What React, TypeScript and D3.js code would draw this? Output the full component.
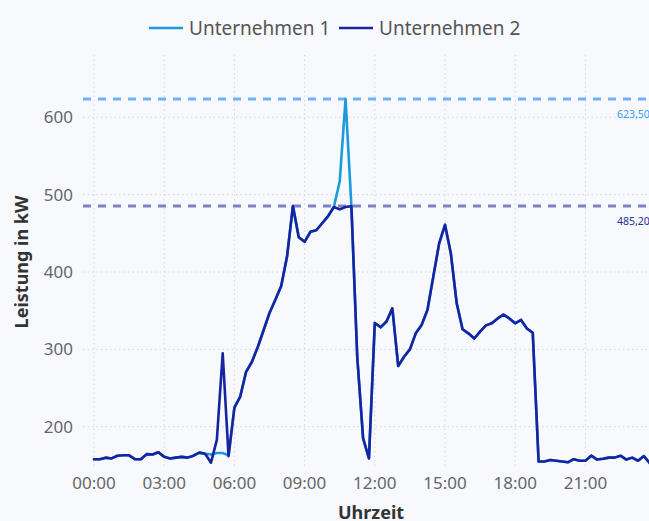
import React from "react";
import * as d3 from "d3";

const seriesNames = ["Unternehmen 1", "Unternehmen 2"];
const xTickLabels = ["00:00", "03:00", "06:00", "09:00", "12:00", "15:00", "18:00", "21:00"];
const xTickHours = [0, 3, 6, 9, 12, 15, 18, 21];
const yTicks = [200, 300, 400, 500, 600];
const stepHours = 0.25;

const unternehmen2 = [
  158, 158, 160, 159, 162.5, 163, 163, 158, 158, 164.5, 164, 167, 161, 159, 160, 161, 160, 162.5, 166.5, 165,
  153.5, 183, 295, 162, 224.6, 239, 271, 284, 303, 325, 347, 364, 382, 420, 485.2, 445, 439, 452, 454, 463,
  472, 484, 481, 484, 485.2, 290, 185, 159, 334, 328.5, 336, 353, 278.5, 290.5, 300, 320.7, 331.5, 351, 394, 437,
  461, 424, 359.5, 326, 320.7, 314, 322.8, 331, 333.7, 340, 345, 340, 333.7, 338, 327, 321.5, 155, 155, 157, 156,
  155, 154, 158, 156, 156, 162.5, 157.5, 158.5, 160, 160, 162.5, 157.5, 160, 156, 162, 153,
];

const unternehmen1 = [
  158, 158, 160, 159, 162.5, 163, 163, 158, 158, 164.5, 164, 167, 161, 159, 160, 161, 160, 162.5, 166.5, 165,
  164, 166, 166, 163, 224.6, 239, 271, 284, 303, 325, 347, 364, 382, 420, 485.2, 445, 439, 452, 454, 463,
  472, 484, 517, 623.5, 485.2, 290, 185, 159, 334, 328.5, 336, 353, 278.5, 290.5, 300, 320.7, 331.5, 351, 394, 437,
  461, 424, 359.5, 326, 320.7, 314, 322.8, 331, 333.7, 340, 345, 340, 333.7, 338, 327, 321.5, 155, 155, 157, 156,
  155, 154, 158, 156, 156, 162.5, 157.5, 158.5, 160, 160, 162.5, 157.5, 160, 156, 162, 153,
];

const refValues = [623.5, 485.2];
const refLabels = ["623,50", "485,20"];

const W = 649;
const H = 521;
const colors = ["#1b9ade", "#1624a2"];
const refColors = ["#6fb1fb", "#7d82c8"];
const refTextColors = ["#3b9cf2", "#27308f"];
const font = "'Noto Sans', 'Open Sans', sans-serif";

export default function App() {
  const x = d3.scaleLinear().domain([0, 24]).range([94, 94 + 24 * 23.4]);
  const y = d3.scaleLinear().domain([200, 600]).range([426.7, 117.3]);
  const plotLeft = 83;
  const plotTop = 55;
  const plotBottom = 466;

  const line = d3
    .line<number>()
    .x((_, i) => x(i * stepHours))
    .y((d) => y(d));

  const data = [unternehmen1, unternehmen2];

  return (
    <svg
      width={W}
      height={H}
      style={{ position: "fixed", left: 0, top: 0, background: "#f8f9fd" }}
      fontFamily={font}
    >
      <rect x={0} y={0} width={W} height={H} fill="#f8f9fd" />
      {/* grid */}
      {yTicks.map((t) => (
        <line
          key={"gy" + t}
          x1={plotLeft}
          x2={W}
          y1={y(t)}
          y2={y(t)}
          stroke="#d3d6de"
          strokeWidth={1}
          strokeDasharray="1.5,3"
        />
      ))}
      {xTickHours.map((h) => (
        <line
          key={"gx" + h}
          x1={x(h)}
          x2={x(h)}
          y1={plotTop}
          y2={plotBottom}
          stroke="#d3d6de"
          strokeWidth={1}
          strokeDasharray="1.5,3"
        />
      ))}
      {/* y tick labels */}
      {yTicks.map((t) => (
        <text
          key={"ty" + t}
          x={73}
          y={y(t)}
          dy="0.35em"
          textAnchor="end"
          fontSize={17}
          fill="#666"
        >
          {t}
        </text>
      ))}
      {/* x tick labels */}
      {xTickHours.map((h, i) => (
        <text key={"tx" + h} x={x(h)} y={489} textAnchor="middle" fontSize={17} fill="#666">
          {xTickLabels[i]}
        </text>
      ))}
      {/* axis titles */}
      <text
        transform={`translate(28, 262) rotate(-90)`}
        textAnchor="middle"
        fontSize={18}
        fontWeight="bold"
        fill="#333"
      >
        Leistung in kW
      </text>
      <text x={371} y={519} textAnchor="middle" fontSize={18} fontWeight="bold" fill="#333">
        Uhrzeit
      </text>
      {/* reference lines */}
      {refValues.map((v, i) => (
        <g key={"ref" + i}>
          <line
            x1={plotLeft}
            x2={W}
            y1={y(v)}
            y2={y(v)}
            stroke={refColors[i]}
            strokeWidth={3}
            strokeDasharray="8,7"
          />
          <text x={617} y={y(v) + 19} fontSize={10.5} fill={refTextColors[i]}>
            {refLabels[i]}
          </text>
        </g>
      ))}
      {/* series */}
      {data.map((d, i) => (
        <path
          key={"s" + i}
          d={line(d) || ""}
          fill="none"
          stroke={colors[i]}
          strokeWidth={2.6}
          strokeLinejoin="round"
          strokeLinecap="round"
        />
      ))}
      {/* legend */}
      {seriesNames.map((n, i) => {
        const sx = i === 0 ? 149 : 339;
        return (
          <g key={"lg" + i}>
            <line x1={sx} x2={sx + 34} y1={28} y2={28} stroke={colors[i]} strokeWidth={2.6} />
            <text x={sx + 40} y={28} dy="0.35em" fontSize={19} fill="#555">
              {n}
            </text>
          </g>
        );
      })}
    </svg>
  );
}
